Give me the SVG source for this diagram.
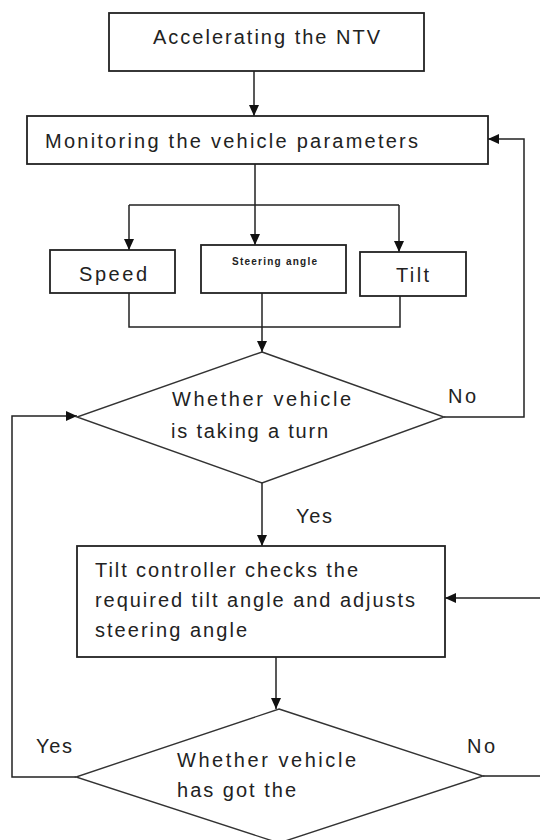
<svg xmlns="http://www.w3.org/2000/svg" width="540" height="840" viewBox="0 0 540 840">
<defs>
<marker id="ah" markerWidth="11" markerHeight="11" refX="11" refY="5.5" orient="auto" markerUnits="userSpaceOnUse">
<path d="M0,0.5 L11,5.5 L0,10.5 z" fill="#111"/>
</marker>
<style>
.box{fill:#fff;stroke:#222;stroke-width:1.8}
.dia{fill:#fff;stroke:#333;stroke-width:1.4}
.c{fill:none;stroke:#222;stroke-width:1.5}
.ca{fill:none;stroke:#222;stroke-width:1.5;marker-end:url(#ah)}
.t{font-family:"Liberation Sans",Arial,sans-serif;font-size:20px;fill:#222}
.s{font-family:"Liberation Sans",Arial,sans-serif;font-size:10px;font-weight:bold;fill:#222}
</style>
</defs>
<rect width="540" height="840" fill="#fff"/>
<g id="connectors">
<path class="ca" d="M254,71 V116"/>
<path class="c" d="M255,164 V205 M129,205 H399"/>
<path class="ca" d="M129,205 V250"/>
<path class="ca" d="M255,205 V245"/>
<path class="ca" d="M399,205 V252"/>
<path class="c" d="M129,293 V327 H400 V296"/>
<path class="ca" d="M262,293 V352"/>
<path class="ca" d="M444,417 H524 V139 H488"/>
<path class="ca" d="M262,483 V546"/>
<path class="ca" d="M276,657 V709"/>
<path class="ca" d="M76,777 H12 V416 H77"/>
<path class="ca" d="M483,776 H546 V598 H445"/>
<text class="t" x="448" y="403" textLength="28" lengthAdjust="spacing">No</text>
<text class="t" x="296" y="523" textLength="36" lengthAdjust="spacing">Yes</text>
<text class="t" x="36" y="753" textLength="36" lengthAdjust="spacing">Yes</text>
<text class="t" x="467" y="753" textLength="28" lengthAdjust="spacing">No</text>
</g>
<g id="n1">
<rect class="box" x="109" y="13" width="315" height="58"/>
<text class="t" x="153" y="44" textLength="227" lengthAdjust="spacing">Accelerating the NTV</text>
</g>
<g id="n2">
<rect class="box" x="27" y="116" width="461" height="48"/>
<text class="t" x="45" y="148" textLength="373" lengthAdjust="spacing">Monitoring the vehicle parameters</text>
</g>
<g id="n3">
<rect class="box" x="50" y="250" width="125" height="43"/>
<text class="t" x="79" y="281" textLength="68" lengthAdjust="spacing">Speed</text>
</g>
<g id="n4">
<rect class="box" x="201" y="245" width="145" height="48"/>
<text class="s" x="232" y="265" textLength="85" lengthAdjust="spacing">Steering angle</text>
</g>
<g id="n5">
<rect class="box" x="360" y="252" width="106" height="44"/>
<text class="t" x="396" y="282" textLength="33" lengthAdjust="spacing">Tilt</text>
</g>
<g id="n6">
<polygon class="dia" points="262,352 444,417 262,483 77,417"/>
<text class="t" x="172" y="406" textLength="179" lengthAdjust="spacing">Whether vehicle</text>
<text class="t" x="171" y="438" textLength="157" lengthAdjust="spacing">is taking a turn</text>
</g>
<g id="n7">
<rect class="box" x="77" y="546" width="368" height="111"/>
<text class="t" x="95" y="577" textLength="263" lengthAdjust="spacing">Tilt controller checks the</text>
<text class="t" x="95" y="607" textLength="320" lengthAdjust="spacing">required tilt angle and adjusts</text>
<text class="t" x="95" y="637" textLength="152" lengthAdjust="spacing">steering angle</text>
</g>
<g id="n8">
<polygon class="dia" points="279,709 483,776 279,843 76,777"/>
<text class="t" x="177" y="767" textLength="179" lengthAdjust="spacing">Whether vehicle</text>
<text class="t" x="177" y="797" textLength="119" lengthAdjust="spacing">has got the</text>
</g>
</svg>
